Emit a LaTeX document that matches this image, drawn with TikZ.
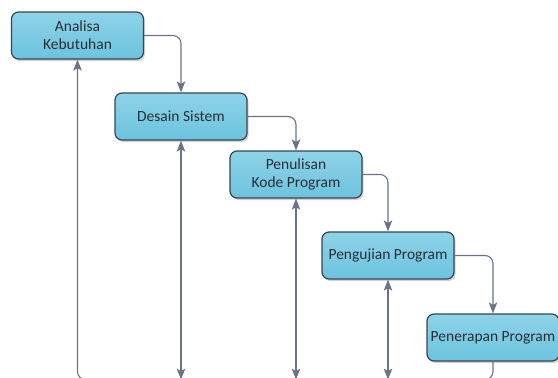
\documentclass[tikz,border=0pt]{standalone}
\usepackage{fontspec}
\setmainfont{Carlito}
\usetikzlibrary{arrows.meta,shadows,calc}
\definecolor{boxtop}{HTML}{8DD3E8}
\definecolor{boxbot}{HTML}{6CC3DE}
\definecolor{boxline}{HTML}{3A4450}
\definecolor{conncol}{HTML}{6A7387}
\definecolor{txtcol}{HTML}{2A2E33}
\tikzset{
  stage/.style={draw=boxline, line width=1.2pt, rounded corners=7pt,
    top color=boxtop, bottom color=boxbot,
    minimum width=132pt, minimum height=47pt, inner sep=1pt,
    align=center, font=\fontsize{15.5}{18}\selectfont, text=txtcol,
    drop shadow={shadow xshift=1.5pt, shadow yshift=-2pt, fill=black!35, opacity=0.5}},
  conn/.style={draw=conncol, line width=1.1pt, rounded corners=8pt,
    arrows={-Stealth[length=11pt,width=8.5pt,inset=2.5pt]}},
  twoway/.style={draw=conncol, line width=1.1pt,
    arrows={Stealth[length=11pt,width=8.5pt,inset=2.5pt]-Stealth[length=11pt,width=8.5pt,inset=2.5pt]}}
}
\begin{document}
\begin{tikzpicture}[x=1pt,y=-1pt]
\useasboundingbox (0,0) rectangle (558,378);
\clip (0,0) rectangle (558,378);
\node[stage] (a) at (77.5,35.5) {Analisa\\Kebutuhan};
\node[stage] (b) at (181,116.5) {Desain Sistem};
\node[stage] (c) at (296,174.5) {Penulisan\\Kode Program};
\node[stage] (d) at (388,255.5) {Pengujian Program};
\node[stage] (e) at (493,337.5) {Penerapan Program};
\coordinate (bot) at (0,379.6);
\draw[conn] (a.east) -| (b.north);
\draw[conn] (b.east) -| (c.north);
\draw[conn] (c.east) -| (d.north);
\draw[conn] (d.east) -| (e.north);
\draw[conn] (e.south) |- (a.south |- bot) -- (a.south);
\draw[twoway] (b.south) -- (b.south |- bot);
\draw[twoway] (c.south) -- (c.south |- bot);
\draw[twoway] (d.south) -- (d.south |- bot);
\end{tikzpicture}
\end{document}
